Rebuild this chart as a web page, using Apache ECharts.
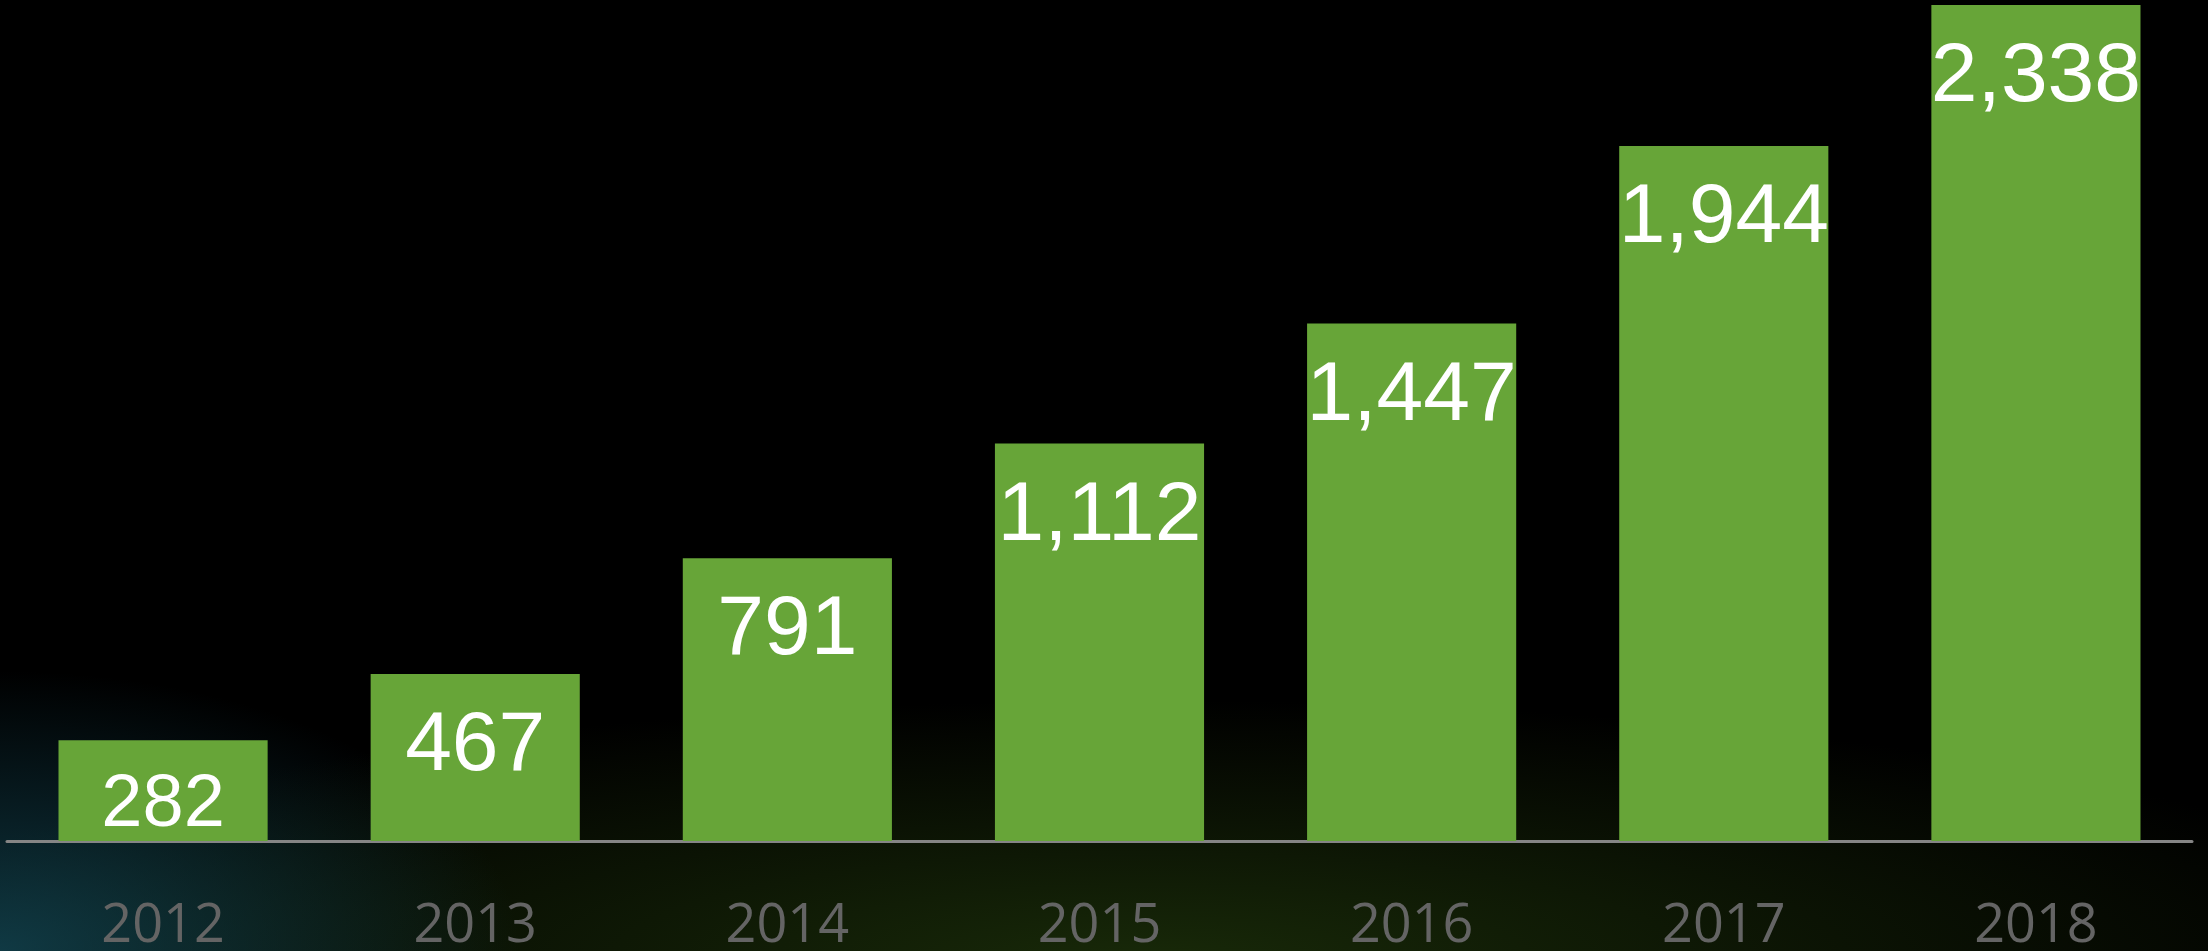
<!DOCTYPE html>
<html lang="en">
<head>
    <meta charset="UTF-8">
    <title>Bars 2012-2018</title>
    <style>
        *{
            margin: 0;
            padding: 0;
        }
        html, body{
            width: 2208px;
            height: 951px;
            overflow: hidden;
        }
        body{
            background:
                radial-gradient(ellipse 520px 280px at 0px 951px, rgba(20, 75, 90, 0.75), rgba(20, 75, 90, 0) 100%),
                radial-gradient(ellipse 1300px 260px at 1150px 960px, rgba(28, 48, 10, 0.85), rgba(28, 48, 10, 0) 100%),
                #000;
        }
        #chart{
            width: 2208px;
            height: 951px;
        }
    </style>
</head>
<body>
    <div id="chart"></div>
    <script src="https://cdn.jsdelivr.net/npm/echarts@6/dist/echarts.min.js"></script>
    <script>
        var years = ['2012', '2013', '2014', '2015', '2016', '2017', '2018'];
        var values = [282, 467, 791, 1112, 1447, 1944, 2338];

        var chart = echarts.init(document.getElementById('chart'));

        // the first bar is short, its label is set a bit smaller
        var barData = values.map(function(v, i){
            var item = { value: v };
            if (i === 0) {
                item.label = { fontSize: 74, distance: 28 };
            }
            return item;
        });

        var option = {
            backgroundColor: 'transparent',
            animation: false,
            grid: {
                left: 7,
                right: 16,
                top: 5,
                bottom: 110,
                outerBoundsMode: 'none',
                containLabel: false
            },
            xAxis: {
                type: 'category',
                data: years,
                axisLine: {
                    lineStyle: { color: '#858585', width: 3 }
                },
                axisTick: { show: false },
                axisLabel: {
                    color: '#646464',
                    fontFamily: 'Open Sans',
                    fontSize: 54,
                    margin: 59
                }
            },
            yAxis: {
                type: 'value',
                min: 0,
                max: 'dataMax',
                show: false,
                splitLine: { show: false }
            },
            series: [{
                type: 'bar',
                data: barData,
                barCategoryGap: '33%',
                itemStyle: { color: '#67a538' },
                label: {
                    show: true,
                    position: 'insideTop',
                    distance: 31,
                    color: '#fff',
                    fontFamily: 'Liberation Sans',
                    fontSize: 84,
                    formatter: function(p){
                        return echarts.format.addCommas(p.value);
                    }
                }
            }]
        };

        chart.setOption(option);
    </script>
</body>
</html>
